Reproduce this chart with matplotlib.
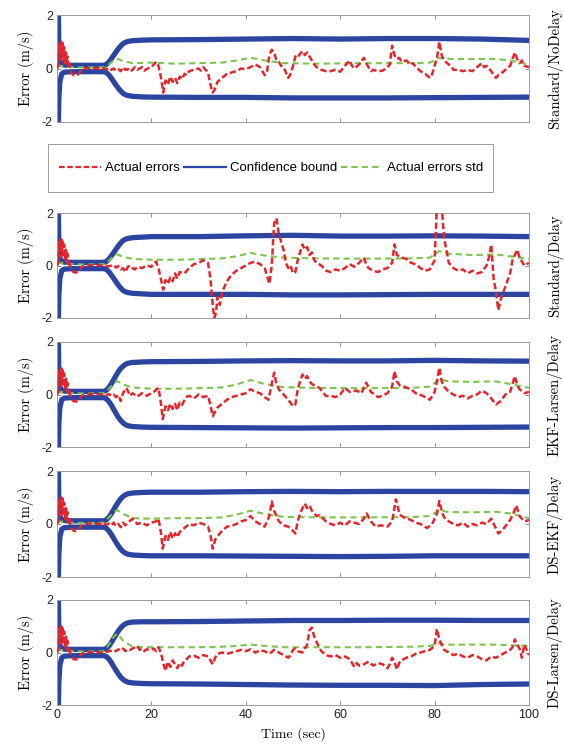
import matplotlib
matplotlib.use('Agg')
import matplotlib.pyplot as plt
from matplotlib.lines import Line2D
from matplotlib.patches import Rectangle

# ---- data (time in sec, error in m/s) ----
panel_names = ['Standard/NoDelay', 'Standard/Delay', 'EKF-Larsen/Delay',
               'DS-EKF/Delay', 'DS-Larsen/Delay']
xticks = [0, 20, 40, 60, 80, 100]
yticks = [-2, 0, 2]
ytick_labels = ['-2', '0', '2']

# start-up transient, the same in every run
early_t = [0, 0.3, 0.5, 0.7, 0.9, 1.0, 1.2, 1.4, 1.5, 1.7, 1.9, 2.0, 2.2, 2.4,
           2.6, 2.8, 3.0, 3.5, 4.0, 4.5, 5.0, 5.5, 6, 7, 8, 9]
early_err = [0, 0.1, 0.9, 0.3, 1.0, 0.5, 0.95, 0.3, 0.8, 0.2, 0.6, 0.15, 0.45,
             0.05, 0.2, 0.0, -0.15, -0.25, -0.27, -0.22, -0.1, -0.03, 0, 0.02, 0, 0.01]

err_t = [
    [10, 10.5, 11, 11.5, 12, 12.5, 13, 13.5, 14, 14.5, 15, 15.5, 16, 16.5, 17, 17.5, 18, 18.5, 19,
     19.5, 20, 20.5, 21, 21.5, 22, 22.5, 23, 23.5, 24, 24.5, 25, 25.5, 26, 26.5, 27, 27.5, 28, 29,
     30, 30.5, 31, 31.5, 32, 32.5, 33, 33.5, 34, 35, 36, 37, 38, 39, 40, 41, 42, 42.5, 43, 44, 44.5,
     45, 45.5, 46, 46.5, 47, 47.5, 48, 48.5, 49, 49.5, 50, 50.5, 51, 51.5, 52, 52.5, 53, 53.5, 54,
     54.5, 55, 56, 57, 58, 59, 60, 61, 62, 62.5, 63, 64, 65, 65.5, 66, 66.5, 67, 68, 69, 70, 70.5,
     71, 71.5, 72, 72.5, 73, 74, 75, 75.5, 76, 77, 78, 79, 79.5, 80, 80.5, 81, 81.5, 82, 83, 83.5,
     84, 85, 86, 87, 88, 89, 90, 90.5, 91, 92, 92.5, 93, 93.5, 94, 95, 96, 96.5, 97, 97.5, 98, 98.5,
     99, 100],
    [10, 11, 12, 12.5, 13, 13.5, 14, 14.5, 15, 15.5, 16, 16.5, 17, 18, 18.5, 19, 20, 20.5, 21, 21.5,
     22, 22.5, 23, 23.5, 24, 24.5, 25, 25.5, 26, 27, 28, 29, 30, 31, 32, 32.5, 33, 33.3, 33.7, 34,
     34.5, 35, 36, 37, 38, 39, 40, 41, 42, 43, 44, 44.5, 45, 45.5, 46, 46.5, 47, 47.5, 48, 48.5, 49,
     49.5, 50, 50.5, 51, 51.5, 52, 52.5, 53, 53.5, 54, 54.5, 55, 56, 57, 58, 59, 60, 61, 62, 63, 64,
     65, 65.5, 66, 67, 68, 69, 70, 71, 71.5, 72, 72.5, 73, 74, 75, 76, 77, 78, 79, 80, 80.5, 81,
     81.5, 82, 82.5, 83, 84, 85, 86, 87, 88, 89, 90, 91, 91.5, 92, 92.5, 93, 93.5, 94, 95, 96, 96.5,
     97, 97.5, 98, 99, 100],
    [10, 10.5, 11, 11.5, 12, 12.5, 13, 13.5, 14, 14.7, 15.5, 16, 17, 18, 19, 20, 20.5, 21.5, 22,
     22.4, 23, 23.5, 24, 24.5, 25, 25.5, 26, 26.5, 27.3, 28, 29, 30, 31, 32, 32.5, 33, 33.5, 34, 35,
     36, 37, 38, 39, 40, 41, 42, 43, 44, 44.8, 45.5, 46, 46.5, 47, 48, 49, 50, 50.5, 51, 51.5, 52,
     52.5, 53, 53.5, 54, 55, 55.6, 57, 58, 59, 60, 61, 62, 63.5, 64.5, 65.5, 66.5, 67.3, 68, 69, 70,
     71, 71.5, 72, 72.6, 73.5, 75, 76, 77.5, 79, 80, 80.5, 81, 81.5, 82, 83, 84, 85, 86, 87, 88, 89,
     90, 91, 92, 93, 94, 95, 96, 96.5, 97, 97.5, 98, 99, 100],
    [10, 10.5, 11, 11.5, 12, 12.5, 13, 13.5, 14, 14.5, 15, 16, 17, 18, 19, 20, 21, 21.5, 22, 22.4,
     23, 23.5, 24, 24.5, 25, 25.5, 26, 27, 28, 29, 30, 31, 32, 32.5, 33, 33.5, 34.3, 35, 36, 37,
     38, 39, 40, 41, 42, 43, 44, 45, 45.5, 46, 47, 48, 49, 49.7, 50.5, 51, 51.5, 52.5, 53, 53.5, 54,
     55, 55.6, 57, 58, 59, 60, 61, 62, 63, 64, 65, 65.6, 66.5, 67.5, 68.5, 70, 71, 71.8, 72.6, 73.5,
     75, 76, 77, 78.4, 79.5, 80.5, 81, 81.5, 82, 83, 84, 85, 86, 87, 88, 89, 90, 91, 92, 93.5, 94.5,
     96, 96.7, 97.3, 98, 99, 100],
    [10, 11, 12, 12.5, 13, 13.5, 14, 14.5, 15, 15.5, 16, 16.5, 17, 17.5, 18, 18.5, 19, 20, 20.5, 21,
     21.5, 22, 22.5, 23, 23.5, 24, 24.5, 25, 25.5, 26, 26.5, 27, 27.5, 28, 29, 30, 31, 32, 32.5, 33,
     33.5, 34, 35, 36, 37, 38, 39, 40, 41, 42, 43, 44, 45, 46, 47, 48, 49, 49.5, 50, 50.5, 51, 52, 53,
     53.5, 54, 54.5, 55, 55.5, 56, 57, 58, 59, 60, 61, 62, 63, 63.5, 64, 65, 66, 67, 68, 69, 70,
     70.5, 71, 71.5, 72, 72.5, 73, 74, 75, 76, 77, 78, 79, 80, 80.5, 81, 81.5, 82, 83, 84, 85, 86, 87,
     88, 89, 90, 91, 92, 93, 94, 95, 96, 96.5, 97, 97.5, 98, 98.5, 99, 100],
]
err_v = [
    [0, -0.03, 0.02, -0.05, 0.0, -0.08, -0.03, -0.1, 0.05, -0.05, -0.02, -0.12, -0.05, 0.05, -0.05,
     0.0, 0.05, -0.08, -0.02, 0.02, 0.05, 0.15, 0.25, 0.1, -0.3, -0.9, -0.45, -0.6, -0.3, -0.5,
     -0.35, -0.55, -0.3, -0.4, -0.2, -0.25, -0.1, -0.05, 0.0, -0.08, 0.05, -0.05, -0.15, -0.6, -0.9,
     -0.75, -0.5, -0.35, -0.2, -0.15, -0.1, 0.0, -0.02, 0.05, 0.15, 0.1, 0.05, -0.25, -0.1, 0.5, 0.7,
     0.6, 0.3, 0.25, 0.1, 0.05, -0.15, -0.35, -0.2, 0.1, 0.45, 0.4, 0.55, 0.65, 0.5, 0.6, 0.45, 0.3,
     0.15, 0.05, -0.05, -0.1, -0.1, -0.05, -0.12, 0.1, 0.3, 0.1, 0.0, 0.15, 0.4, 0.2, 0.05, -0.1,
     -0.05, -0.1, -0.08, 0.05, 0.15, 0.85, 0.5, 0.35, 0.4, 0.25, 0.3, 0.15, 0.2, 0.05, -0.1, -0.2,
     -0.35, -0.2, 0.1, 0.4, 1.0, 0.5, 0.3, 0.15, 0.1, -0.05, -0.05, -0.1, -0.05, -0.1, 0.05, 0.2,
     0.05, 0.1, -0.1, -0.25, -0.35, -0.25, -0.2, -0.05, 0.1, 0.35, 0.6, 0.35, 0.2, 0.3, 0.1, 0.05],
    [0, -0.03, 0.02, -0.08, -0.02, -0.15, -0.1, -0.25, -0.05, 0.0, -0.1, -0.15, -0.05, -0.1, -0.05,
     0.0, -0.05, 0.1, 0.15, -0.1, -0.5, -0.92, -0.55, -0.7, -0.45, -0.6, -0.3, -0.5, -0.25, -0.3,
     -0.1, 0.05, 0.1, 0.2, 0.1, -0.5, -1.5, -2.0, -1.8, -1.2, -1.5, -1.0, -0.6, -0.35, -0.2, -0.1,
     0.0, 0.1, 0.15, 0.05, -0.1, -0.4, -0.7, 0.0, 1.6, 1.8, 1.2, 0.9, 0.6, 0.1, -0.1, 0.0, -0.3,
     -0.25, 0.2, 0.5, 0.8, 0.6, 0.7, 0.4, 0.5, 0.2, 0.1, 0.0, -0.2, -0.25, -0.15, -0.2, -0.1, 0.05,
     -0.05, 0.1, 0.3, 0.05, -0.1, -0.2, -0.25, -0.15, -0.1, 0.1, 0.8, 0.4, 0.35, 0.3, 0.25, 0.1,
     0.05, -0.1, -0.2, -0.15, 0.2, 2.3, 2.3, 2.3, 1.05, 0.6, 0.1, -0.1, -0.2, -0.15, -0.3, -0.2, -0.3,
     -0.25, 0.0, 0.3, 0.8, -0.5, -1.0, -1.7, -1.3, -0.8, -0.3, 0.2, 0.4, 0.6, 0.3, 0.0, 0.1],
    [0, -0.03, 0.02, -0.05, 0.0, -0.1, -0.02, -0.25, 0.05, 0.25, -0.05, 0.05, -0.08, 0.05, -0.05,
     0.05, 0.1, 0.25, -0.3, -0.94, -0.45, -0.6, -0.35, -0.55, -0.35, -0.6, -0.3, -0.4, -0.1, -0.05,
     -0.15, 0.0, -0.1, -0.05, -0.4, -0.83, -0.65, -0.5, -0.35, -0.2, -0.1, -0.05, 0.0, 0.05, 0.2,
     0.1, 0.05, -0.1, -0.2, 0.4, 0.83, 0.4, 0.2, 0.0, -0.2, -0.45, -0.38, 0.2, 0.5, 0.76, 0.6, 0.7,
     0.5, 0.4, 0.3, 0.25, -0.06, -0.05, -0.1, 0.0, 0.25, 0.1, 0.15, 0.05, 0.45, 0.1, 0.0, -0.1, -0.05,
     0.05, 0.3, 0.89, 0.5, 0.35, 0.3, 0.2, 0.05, -0.05, -0.2, 0.1, 0.5, 1.02, 0.5, 0.3, 0.1, 0.0,
     -0.1, -0.05, -0.15, -0.05, 0.0, 0.15, 0.05, -0.15, -0.38, -0.25, 0.0, 0.1, 0.4, 0.7, 0.35, 0.2,
     0.05, 0.1],
    [0, -0.03, 0.02, -0.05, 0.05, -0.08, 0.0, -0.12, 0.05, -0.05, 0.05, 0.2, 0.0, 0.05, -0.05,
     0.05, 0.1, 0.2, -0.3, -0.93, -0.45, -0.6, -0.3, -0.55, -0.35, -0.5, -0.3, -0.15, 0.0, -0.05,
     0.05, 0.0, -0.1, -0.4, -0.93, -0.6, -0.4, -0.25, -0.1, -0.07, 0.0, 0.1, 0.15, 0.3, 0.1, 0.0,
     -0.1, 0.3, 0.85, 0.5, 0.1, -0.05, -0.1, -0.2, -0.36, 0.1, 0.4, 0.77, 0.6, 0.7, 0.5, 0.3, 0.33,
     0.1, 0.0, -0.05, 0.05, -0.05, 0.1, 0.05, 0.0, 0.2, 0.4, 0.1, -0.1, -0.05, -0.1, 0.1, 0.93, 0.35,
     0.25, 0.15, 0.05, 0.0, -0.15, 0.0, 0.4, 0.87, 0.5, 0.25, 0.1, 0.0, -0.05, 0.05, -0.1, 0.0, -0.05,
     0.05, 0.0, 0.2, -0.36, -0.2, 0.15, 0.4, 0.7, 0.3, 0.1, 0.15],
    [0, 0.05, 0.1, 0.05, 0.12, 0.08, 0.15, 0.05, 0.12, 0.1, 0.15, 0.2, 0.25, 0.1, 0.15, 0.05, 0.12,
     0.1, 0.15, 0.05, 0.2, 0.0, -0.4, -0.7, -0.35, -0.55, -0.3, -0.45, -0.6, -0.4, -0.5, -0.3, -0.25,
     -0.15, -0.12, -0.2, -0.1, -0.15, -0.3, -0.45, -0.2, -0.05, 0.0, -0.05, 0.0, 0.05, 0.1, 0.05,
     0.12, 0.0, 0.08, 0.05, -0.05, 0.1, 0.0, -0.1, -0.2, -0.1, 0.1, 0.15, 0.05, 0.0, 0.3, 0.85, 0.95,
     0.6, 0.4, 0.2, 0.05, -0.1, -0.15, -0.1, -0.2, -0.15, -0.25, -0.55, -0.4, -0.5, -0.45, -0.35,
     -0.5, -0.4, -0.45, -0.6, -0.45, -0.2, -0.35, -0.65, -0.4, -0.3, -0.2, -0.15, -0.05, 0.0, 0.05,
     0.1, 0.25, 0.9, 0.5, 0.3, 0.1, 0.0, -0.1, -0.05, -0.15, -0.2, -0.1, -0.15, -0.25, -0.3, -0.15,
     -0.2, -0.1, 0.0, 0.1, 0.2, 0.5, 0.3, 0.15, -0.2, 0.3, -0.1],
]

std_t = [0, 2, 5, 8, 10, 11, 12, 12.8, 14, 16, 20, 25, 30, 35, 38, 41, 44, 48, 55, 65, 75,
         79, 81, 83, 88, 93, 96, 100]
std_v = [
    [0.12, 0.06, 0.04, 0.04, 0.05, 0.15, 0.3, 0.36, 0.28, 0.2, 0.22, 0.18, 0.2, 0.22, 0.3, 0.4,
     0.3, 0.2, 0.18, 0.2, 0.2, 0.22, 0.4, 0.36, 0.35, 0.36, 0.3, 0.15],
    [0.12, 0.06, 0.04, 0.04, 0.05, 0.18, 0.35, 0.42, 0.33, 0.25, 0.22, 0.22, 0.24, 0.27, 0.35, 0.48,
     0.38, 0.3, 0.27, 0.26, 0.27, 0.3, 0.55, 0.45, 0.4, 0.42, 0.35, 0.25],
    [0.12, 0.06, 0.04, 0.04, 0.05, 0.22, 0.42, 0.51, 0.38, 0.27, 0.22, 0.22, 0.24, 0.27, 0.38, 0.55,
     0.4, 0.28, 0.25, 0.24, 0.25, 0.3, 0.57, 0.5, 0.48, 0.5, 0.4, 0.25],
    [0.12, 0.06, 0.04, 0.04, 0.05, 0.25, 0.45, 0.52, 0.38, 0.22, 0.2, 0.22, 0.22, 0.25, 0.35, 0.5,
     0.38, 0.27, 0.25, 0.25, 0.26, 0.3, 0.52, 0.45, 0.44, 0.46, 0.4, 0.22],
    [0.12, 0.06, 0.04, 0.04, 0.05, 0.3, 0.6, 0.72, 0.45, 0.22, 0.2, 0.2, 0.2, 0.22, 0.25, 0.3,
     0.25, 0.2, 0.2, 0.2, 0.22, 0.25, 0.35, 0.3, 0.3, 0.3, 0.28, 0.25],
]

bound_t = [0, 0.3, 0.4, 0.6, 1.0, 1.5, 3, 10, 10.5, 11, 11.5, 12, 12.5, 13, 13.5, 14, 14.5,
           15, 16, 18, 20, 30, 40, 50, 60, 70, 80, 90, 100]
bound_up = [
    [2, 2, 0.6, 0.3, 0.16, 0.13, 0.12, 0.12, 0.16, 0.24, 0.36, 0.49, 0.62, 0.74, 0.84, 0.93, 0.98,
     1.01, 1.04, 1.06, 1.07, 1.08, 1.1, 1.12, 1.1, 1.12, 1.12, 1.1, 1.05],
    [2, 2, 0.6, 0.3, 0.16, 0.13, 0.12, 0.12, 0.16, 0.24, 0.36, 0.49, 0.62, 0.75, 0.86, 0.95, 1.0,
     1.03, 1.06, 1.08, 1.1, 1.1, 1.13, 1.15, 1.12, 1.12, 1.13, 1.12, 1.1],
    [2, 2, 0.6, 0.3, 0.16, 0.13, 0.12, 0.12, 0.17, 0.27, 0.4, 0.56, 0.72, 0.87, 0.99, 1.08, 1.15,
     1.19, 1.22, 1.24, 1.25, 1.26, 1.28, 1.29, 1.28, 1.28, 1.3, 1.28, 1.27],
    [2, 2, 0.6, 0.3, 0.16, 0.13, 0.12, 0.12, 0.17, 0.26, 0.39, 0.54, 0.69, 0.83, 0.95, 1.04, 1.1,
     1.14, 1.17, 1.19, 1.2, 1.2, 1.22, 1.23, 1.22, 1.23, 1.23, 1.23, 1.22],
    [2, 2, 0.6, 0.3, 0.16, 0.13, 0.12, 0.12, 0.16, 0.25, 0.38, 0.53, 0.68, 0.82, 0.94, 1.03, 1.09,
     1.13, 1.16, 1.17, 1.17, 1.18, 1.2, 1.22, 1.22, 1.23, 1.23, 1.22, 1.22],
]
bound_lo = [
    [-2, -2, -1.1, -0.5, -0.2, -0.14, -0.12, -0.12, -0.16, -0.24, -0.36, -0.49, -0.62, -0.74,
     -0.84, -0.93, -0.98, -1.01, -1.04, -1.06, -1.07, -1.08, -1.08, -1.1, -1.1, -1.1, -1.09, -1.08,
     -1.07],
    [-2, -2, -1.1, -0.5, -0.2, -0.14, -0.12, -0.12, -0.16, -0.24, -0.36, -0.49, -0.62, -0.75,
     -0.86, -0.95, -1.0, -1.03, -1.06, -1.08, -1.1, -1.1, -1.1, -1.12, -1.12, -1.11, -1.1, -1.1,
     -1.1],
    [-2, -2, -1.1, -0.5, -0.2, -0.14, -0.12, -0.12, -0.17, -0.27, -0.4, -0.56, -0.72, -0.87, -0.99,
     -1.08, -1.15, -1.19, -1.22, -1.24, -1.25, -1.26, -1.27, -1.28, -1.27, -1.26, -1.26, -1.25,
     -1.24],
    [-2, -2, -1.1, -0.5, -0.2, -0.14, -0.12, -0.12, -0.17, -0.26, -0.39, -0.54, -0.69, -0.83,
     -0.95, -1.04, -1.1, -1.14, -1.17, -1.19, -1.2, -1.2, -1.21, -1.22, -1.23, -1.22, -1.2, -1.2,
     -1.2],
    [-2, -2, -1.1, -0.5, -0.2, -0.14, -0.12, -0.12, -0.16, -0.25, -0.38, -0.53, -0.68, -0.82,
     -0.94, -1.03, -1.09, -1.13, -1.16, -1.18, -1.19, -1.2, -1.22, -1.24, -1.25, -1.25, -1.26,
     -1.22, -1.2],
]

RED = '#e3262b'
BLUE = '#2c45a0'
GREEN = '#7cc44e'
SERIF = ['cmr10', 'DejaVu Serif']
SANS = ['Liberation Sans', 'DejaVu Sans']

# axes boxes in pixels: (top, bottom) on a 564x744 canvas
W, H = 564, 744
boxes = [(15, 122), (213, 318), (342, 447), (471, 577), (600, 705)]
left, right = 57, 529

fig = plt.figure(figsize=(W / 100, H / 100), dpi=100)

for i, (top, bot) in enumerate(boxes):
    ax = fig.add_axes([left / W, (H - bot) / H, (right - left) / W, (bot - top) / H])
    ax.plot(bound_t, bound_up[i], color=BLUE, lw=3.8, solid_capstyle='butt', zorder=2)
    ax.plot(bound_t, bound_lo[i], color=BLUE, lw=3.8, solid_capstyle='butt', zorder=2)
    ax.plot(std_t, std_v[i], color=GREEN, lw=1.5, dashes=(3, 2), zorder=3)
    ax.plot(early_t + err_t[i], early_err + err_v[i], color=RED, lw=1.8,
            dashes=(2.5, 1.2), zorder=4)

    ax.set_xlim(0, 100)
    ax.set_ylim(-2, 2)
    ax.set_xticks(xticks)
    ax.set_yticks(yticks)
    ax.set_yticklabels(ytick_labels, family=SANS, fontsize=9)
    ax.tick_params(direction='in', length=3, width=0.5, color='#666666',
                   top=True, right=True, pad=3, labelcolor='#222222')
    for s in ax.spines.values():
        s.set_color('#9a9a9a')
        s.set_linewidth(0.7)
    if i < len(boxes) - 1:
        ax.set_xticklabels([])
    else:
        ax.set_xticklabels([str(v) for v in xticks], family=SANS, fontsize=9)
        ax.set_xlabel('Time (sec)', family=SERIF, fontsize=10)
        ax.xaxis.set_label_coords(0.5, -0.215)
    ax.set_ylabel('Error (m/s)', family=SERIF, fontsize=10.5)
    ax.yaxis.set_label_coords(-0.048, 0.5)
    fig.text(0.984, 1 - (top + bot) / 2 / H, panel_names[i], rotation=90,
             ha='center', va='center', family=SERIF, fontsize=10.5)

# legend: frameless legend inside a drawn box between the first two panels
fig.patches.append(Rectangle((48 / W, 1 - 192 / H), 445 / W, 48 / H,
                             transform=fig.transFigure, fill=False,
                             edgecolor='#9a9a9a', linewidth=0.7))
handles = [Line2D([], [], color=RED, lw=1.6, dashes=(2.5, 1.2)),
           Line2D([], [], color=BLUE, lw=1.6),
           Line2D([], [], color=GREEN, lw=1.5, dashes=(3, 2))]
labels = ['Actual errors', 'Confidence bound', 'Actual errors std']
fig.legend(handles, labels, loc='center', ncol=3,
           bbox_to_anchor=(271 / W, 1 - 168 / H),
           prop={'family': SANS, 'size': 9.5}, frameon=False,
           handlelength=3.2, handletextpad=0.3, columnspacing=0.3,
           borderpad=0, borderaxespad=0)

fig.savefig('out.png', dpi=100)
